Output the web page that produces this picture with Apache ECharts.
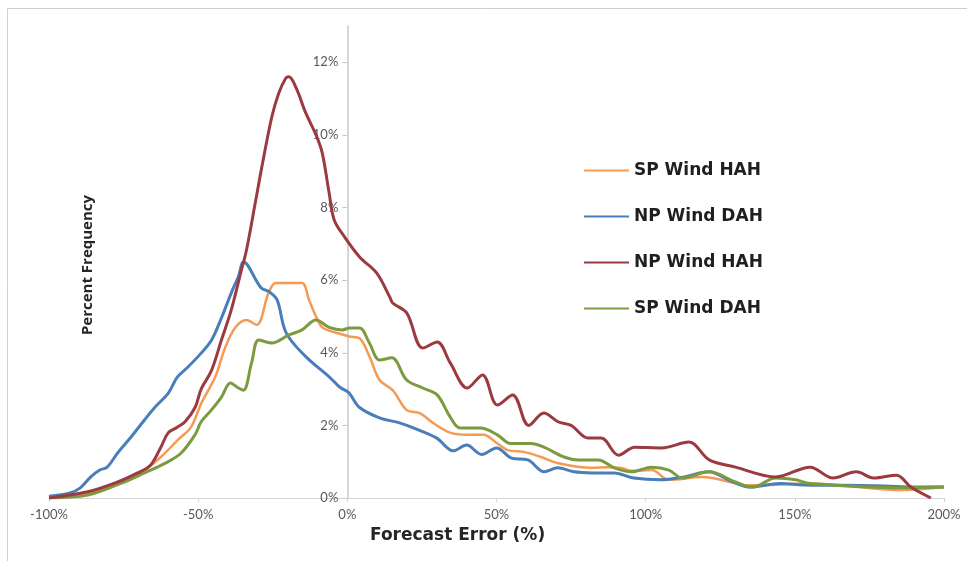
<!DOCTYPE html>
<html>
<head>
<meta charset="utf-8">
<script src="https://cdn.jsdelivr.net/npm/echarts@6/dist/echarts.min.js"></script>
<style>
  html, body { margin: 0; padding: 0; background: #fff; }
  #chart { width: 967px; height: 561px; }
</style>
</head>
<body>
<div id="chart"></div>
<script>
// Forecast error distributions: [error %, percent frequency]
const spWindHAH = [
  [-100,0],[-87,0.14],[-76,0.4],[-68,0.77],[-62.5,1.13],[-56.8,1.6],[-52.4,1.95],[-49,2.6],
  [-44.3,3.33],[-40.9,4.15],[-37.5,4.7],[-33.8,4.9],[-30.4,4.77],[-26.4,5.65],[-24,5.92],
  [-19.6,5.92],[-15.2,5.92],[-12.8,5.45],[-10.5,5.0],[-8.4,4.7],[-3.7,4.55],[0.7,4.45],
  [4.1,4.4],[7.4,3.9],[10.8,3.25],[15.2,2.97],[19.9,2.42],[24.3,2.34],[28.7,2.07],[34.5,1.8],
  [40.2,1.74],[45.6,1.74],[50.3,1.5],[53.7,1.32],[59.1,1.27],[64.9,1.13],[70.6,0.96],
  [81.8,0.83],[87.5,0.85],[91.9,0.83],[95.3,0.75],[102,0.77],[107.8,0.5],[118.9,0.58],
  [134.8,0.35],[155.1,0.4],[163.9,0.36],[186.5,0.22],[200,0.3]
];
const npWindDAH = [
  [-100,0.05],[-93,0.14],[-89.5,0.28],[-86,0.58],[-83,0.77],[-80.5,0.85],[-77,1.24],
  [-72.5,1.68],[-68,2.15],[-64.5,2.5],[-60,2.89],[-57,3.33],[-53.5,3.6],[-49,3.99],
  [-45.5,4.35],[-42,5.0],[-38.9,5.65],[-36.5,6.1],[-34.8,6.5],[-29,5.8],[-26,5.67],
  [-23.5,5.45],[-20.5,4.55],[-14,3.9],[-6,3.33],[-2.5,3.05],[0.5,2.9],[4,2.5],[11,2.2],
  [17.5,2.07],[24,1.87],[30,1.65],[35.5,1.3],[40,1.46],[45,1.2],[50,1.38],[55,1.1],
  [60.5,1.05],[66,0.72],[70.5,0.83],[76,0.72],[82,0.69],[89.5,0.69],[96,0.55],[105,0.5],
  [113,0.58],[121,0.72],[129,0.45],[135,0.3],[145,0.4],[153,0.36],[165,0.35],[180,0.33],
  [190,0.3],[200,0.3]
];
const npWindHAH = [
  [-100,0],[-87,0.17],[-77,0.44],[-70.3,0.69],[-66,0.9],[-62.5,1.4],[-60,1.8],[-57,1.95],
  [-54.4,2.1],[-51,2.5],[-49,3.0],[-45.6,3.5],[-42.2,4.35],[-38.9,5.18],[-35.5,6.28],
  [-33.8,6.83],[-30.7,8.2],[-28.7,9.1],[-25.3,10.5],[-23,11.15],[-20.6,11.57],[-19.6,11.6],
  [-17.2,11.3],[-13.9,10.6],[-10.5,10.0],[-8.4,9.5],[-6.1,8.4],[-4.4,7.66],[-1,7.2],
  [4.1,6.64],[9.8,6.2],[14.2,5.54],[15.2,5.37],[19.9,5.1],[25.3,4.13],[30.1,4.3],
  [34.5,3.72],[40.2,3.03],[45.3,3.39],[50.3,2.56],[55.4,2.84],[60.8,2.0],[65.9,2.34],
  [70.6,2.1],[75,2.0],[80.7,1.65],[85.1,1.65],[90.9,1.18],[96.3,1.4],[105.4,1.38],
  [114.5,1.54],[121.3,1.05],[130.1,0.85],[143.6,0.58],[155.1,0.85],[162.8,0.55],
  [170.6,0.72],[176.4,0.55],[184.1,0.63],[188.9,0.3],[195.6,0]
];
const spWindDAH = [
  [-100,0],[-87,0.08],[-76,0.4],[-68,0.69],[-61,0.96],[-55.7,1.24],[-51,1.75],[-49,2.1],
  [-45.6,2.42],[-42.2,2.78],[-39.2,3.17],[-36.5,3.03],[-34.8,2.97],[-32.1,3.72],[-29.7,4.35],
  [-25.3,4.27],[-19.6,4.49],[-15.2,4.63],[-10.5,4.9],[-6.1,4.7],[-1.7,4.63],[0.7,4.68],
  [4.1,4.68],[7.4,4.27],[10.8,3.8],[14.9,3.86],[19.9,3.25],[25.3,3.03],[30.1,2.84],
  [34.5,2.23],[37.8,1.93],[44.6,1.93],[50.3,1.74],[54.7,1.5],[61.5,1.5],[65.9,1.4],
  [72.6,1.13],[77.4,1.05],[84.1,1.05],[89.5,0.83],[95.3,0.72],[102,0.85],[107.8,0.77],
  [112.2,0.55],[121.3,0.72],[130.1,0.44],[135.8,0.3],[143.6,0.55],[150.3,0.5],[155.1,0.4],
  [186.5,0.28],[200,0.3]
];

const seriesNames = ['SP Wind HAH', 'NP Wind DAH', 'NP Wind HAH', 'SP Wind DAH'];
const seriesColors = ['#F59A52', '#4A7EBB', '#9B3A40', '#7B9B3E'];
const xTicks = [-100, -50, 0, 50, 100, 150, 200];
const yTicks = [0, 2, 4, 6, 8, 10, 12];

const X_MIN = -100, X_MAX = 200;
const GRID_LEFT = 49, GRID_RIGHT = 23, CHART_W = 967;

const chart = echarts.init(document.getElementById('chart'), null, { renderer: 'canvas' });

// The value axis sits on the 0% error line; shift it from the grid's left edge
const plotW = CHART_W - GRID_LEFT - GRID_RIGHT;
const yAxisShift = (0 - X_MIN) / (X_MAX - X_MIN) * plotW;

const lineSeries = [spWindHAH, npWindDAH, npWindHAH, spWindDAH].map((data, i) => ({
  name: seriesNames[i],
  type: 'line',
  data: data,
  smooth: 0.35,
  symbol: 'none',
  z: i === 2 ? 4 : 3,
  lineStyle: { width: i === 0 ? 2.5 : 3, color: seriesColors[i] },
  itemStyle: { color: seriesColors[i] }
}));

const labelFont = { fontFamily: 'Lato', fontSize: 13, color: '#595959' };

chart.setOption({
  backgroundColor: '#ffffff',
  animation: false,
  grid: { left: GRID_LEFT, right: GRID_RIGHT, top: 26, bottom: 63, containLabel: false },
  xAxis: {
    type: 'value',
    min: X_MIN,
    max: X_MAX,
    interval: 50,
    splitLine: { show: false },
    axisLine: { onZero: false, lineStyle: { color: '#D4D4D4', width: 1 } },
    axisTick: { show: true, length: 4, lineStyle: { color: '#D4D4D4' }, customValues: xTicks },
    axisLabel: Object.assign({ margin: 10, formatter: v => v + '%', customValues: xTicks }, labelFont)
  },
  yAxis: {
    type: 'value',
    position: 'left',
    offset: -yAxisShift,
    min: 0,
    max: 13,
    interval: 2,
    splitLine: { show: false },
    axisLine: { show: true, onZero: false, lineStyle: { color: '#C8C8C8', width: 1.5 } },
    axisTick: { show: true, length: 5, lineStyle: { color: '#C8C8C8' }, customValues: yTicks },
    axisLabel: Object.assign({ margin: 9, formatter: v => v + '%', customValues: yTicks }, labelFont)
  },
  legend: {
    orient: 'vertical',
    left: 579,
    top: 157,
    icon: 'rect',
    itemWidth: 45,
    itemHeight: 2,
    itemGap: 29,
    data: seriesNames,
    textStyle: { fontFamily: 'DejaVu Sans', fontWeight: 'bold', fontSize: 17, color: '#1f1f1f' }
  },
  graphic: [
    {
      type: 'rect',
      silent: true,
      shape: { x: 7.5, y: 8.5, width: 980, height: 580 },
      style: { fill: 'none', stroke: '#CFCFCF', lineWidth: 1 }
    },
    {
      type: 'text',
      left: 370,
      top: 527,
      style: { text: 'Forecast Error (%)', fontFamily: 'DejaVu Sans', fontWeight: 'bold', fontSize: 17, fill: '#262626' }
    },
    {
      type: 'text',
      x: 88,
      y: 265,
      rotation: Math.PI / 2,
      style: {
        text: 'Percent Frequency', fontFamily: 'Open Sans', fontWeight: 'bold', fontSize: 15,
        fill: '#262626', align: 'center', verticalAlign: 'middle'
      }
    }
  ],
  series: lineSeries
});
</script>
</body>
</html>
